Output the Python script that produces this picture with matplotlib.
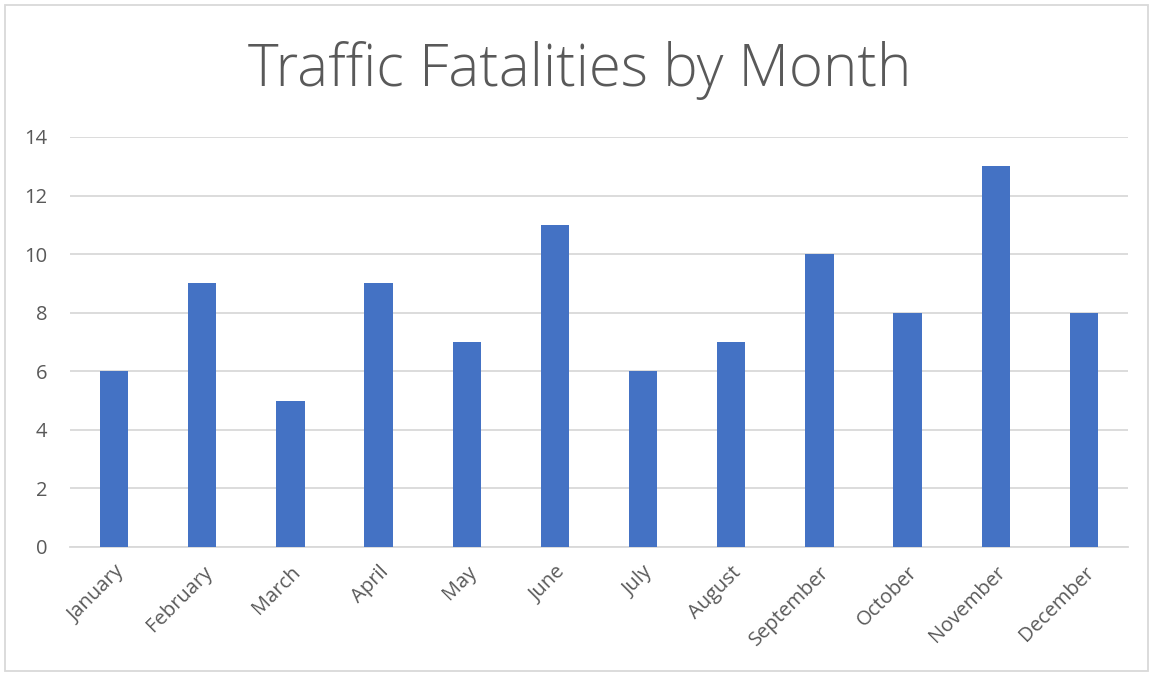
import matplotlib.pyplot as plt
from matplotlib.patches import Rectangle

# data
months = ['January', 'February', 'March', 'April', 'May', 'June',
          'July', 'August', 'September', 'October', 'November', 'December']
fatalities = [6, 9, 5, 9, 7, 11, 6, 7, 10, 8, 13, 8]
yticks = [0, 2, 4, 6, 8, 10, 12, 14]

plt.rcParams['font.family'] = ['Open Sans', 'DejaVu Sans']

fig = plt.figure(figsize=(11.53, 6.75), dpi=100)
ax = fig.add_axes([70 / 1153, 128 / 675, 1058 / 1153, 410 / 675])

x = range(len(months))
ax.bar(x, fatalities, width=0.32, color='#4472C4', zorder=3)

ax.set_xlim(-0.5, len(months) - 0.5)
ax.set_ylim(0, 14)
ax.set_yticks(yticks)
ax.set_xticks(list(x))
ax.set_xticklabels(months, rotation=45, ha='right', rotation_mode='anchor')
ax.grid(axis='y', color='#d9d9d9', linewidth=1.3, zorder=0)
ax.tick_params(axis='both', length=0, labelsize=14.5, colors='#595959')
ax.tick_params(axis='x', pad=11)
ax.tick_params(axis='y', pad=16.5)
for s in ['top', 'right', 'left']:
    ax.spines[s].set_visible(False)
ax.spines['bottom'].set_color('#d9d9d9')
ax.spines['bottom'].set_linewidth(1.3)

fig.text(0.503, 1 - 70 / 675, 'Traffic Fatalities by Month', ha='center', va='center',
         fontsize=42, color='#595959', fontweight='light')

# chart border
fig.patches.append(Rectangle((5 / 1153, 4 / 675), 1143 / 1153, 666 / 675,
                             transform=fig.transFigure, fill=False,
                             edgecolor='#d9d9d9', linewidth=1.3))

fig.savefig('out.png', dpi=100)
